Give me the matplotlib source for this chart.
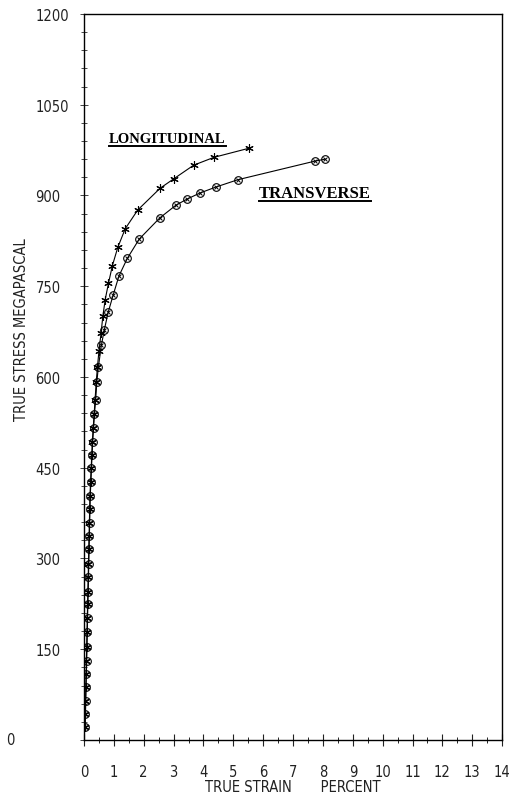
import numpy as np
import matplotlib
matplotlib.use("Agg")
import matplotlib.pyplot as plt
from matplotlib.ticker import MultipleLocator, FuncFormatter
from matplotlib.lines import Line2D

# stress (MPa) vs strain (%)
long_stress = [21, 43, 65, 88, 109, 131, 154, 178, 202, 225, 245, 269, 291, 315,
               337, 359, 382, 404, 426, 449, 471, 493, 516, 539, 562, 592, 616,
               643, 672, 700, 728, 755, 784, 814, 845, 876, 912, 928, 950, 963, 978]
long_strain = [0.03, 0.04, 0.05, 0.06, 0.07, 0.08, 0.09, 0.10, 0.11, 0.12, 0.13,
               0.14, 0.15, 0.16, 0.17, 0.18, 0.19, 0.20, 0.22, 0.24, 0.26, 0.28,
               0.31, 0.34, 0.37, 0.41, 0.45, 0.50, 0.57, 0.63, 0.71, 0.82, 0.95,
               1.13, 1.38, 1.80, 2.55, 3.02, 3.67, 4.35, 5.52]

trans_stress = [21, 43, 65, 88, 109, 131, 154, 178, 202, 225, 245, 269, 291, 315,
                337, 359, 382, 404, 426, 449, 471, 493, 516, 539, 562, 592, 616,
                652, 678, 707, 736, 767, 796, 828, 863, 884, 894, 904, 914, 926,
                957, 960]
trans_strain = [0.04, 0.05, 0.06, 0.07, 0.08, 0.09, 0.10, 0.11, 0.12, 0.13, 0.14,
                0.15, 0.16, 0.17, 0.18, 0.19, 0.20, 0.21, 0.23, 0.25, 0.27, 0.29,
                0.32, 0.35, 0.39, 0.43, 0.48, 0.58, 0.68, 0.81, 0.98, 1.17, 1.45,
                1.85, 2.54, 3.08, 3.45, 3.88, 4.42, 5.15, 7.75, 8.08]

plt.rcParams['font.family'] = ['DejaVu Sans']
plt.rcParams['font.stretch'] = 'condensed'

fig = plt.figure(figsize=(5.26, 8.04), dpi=100)
ax = fig.add_axes([0.1597, 0.0784, 0.795, 0.903])

ax.plot(long_strain, long_stress, color='black', lw=0.8,
        marker=(6, 2, 0), ms=6, mew=0.8)
ax.plot(trans_strain, trans_stress, color='black', lw=0.8,
        marker='o', ms=5.5, mfc='none', mew=0.8)
ax.plot(trans_strain, trans_stress, ls='none', color='black',
        marker='x', ms=3.5, mew=0.7)

ax.set_xlim(0, 14)
ax.set_ylim(0, 1200)
ax.xaxis.set_major_locator(MultipleLocator(1))
ax.xaxis.set_minor_locator(MultipleLocator(0.5))
ax.yaxis.set_major_locator(MultipleLocator(150))
ax.yaxis.set_minor_locator(MultipleLocator(30))
# the zero on the stress axis sits further left, drawn separately below
ax.yaxis.set_major_formatter(FuncFormatter(lambda v, p: '' if v == 0 else '%d' % v))

ax.tick_params(axis='x', which='major', direction='inout', length=9, width=0.8,
               pad=12.5, labelsize=10.5, colors='#222222')
ax.tick_params(axis='x', which='minor', direction='inout', length=5, width=0.6)
ax.tick_params(axis='y', which='major', direction='inout', length=6, width=0.6,
               pad=32, labelsize=10.5, colors='#222222')
ax.tick_params(axis='y', which='minor', direction='inout', length=4, width=0.5)
for lab in ax.get_yticklabels():
    lab.set_horizontalalignment('left')
for s in ax.spines.values():
    s.set_linewidth(1.0)

ax.text(-0.176, 0, '0', transform=ax.get_yaxis_transform(), ha='center',
        va='center', fontsize=10.5, color='#222222')

fig.text(0.04, 0.59, 'TRUE STRESS MEGAPASCAL', rotation=90, ha='center',
         va='center', fontsize=10.5, color='#222222')
fig.text(0.557, 0.021, 'TRUE STRAIN       PERCENT', ha='center', va='center',
         fontsize=10.5, color='#222222')

t1 = ax.text(0.84, 988, 'LONGITUDINAL', family='Liberation Serif',
             fontweight='bold', fontsize=10.5)
t2 = ax.text(5.85, 898, 'TRANSVERSE', family='Liberation Serif',
             fontweight='bold', fontsize=12)

# underline the two curve labels
fig.canvas.draw()
r = fig.canvas.get_renderer()
for t in (t1, t2):
    bb = t.get_window_extent(r).transformed(fig.transFigure.inverted())
    fig.add_artist(Line2D([bb.x0, bb.x1], [bb.y0 - 0.001, bb.y0 - 0.001],
                          color='black', lw=1.4))

fig.savefig('out.png', dpi=100)
